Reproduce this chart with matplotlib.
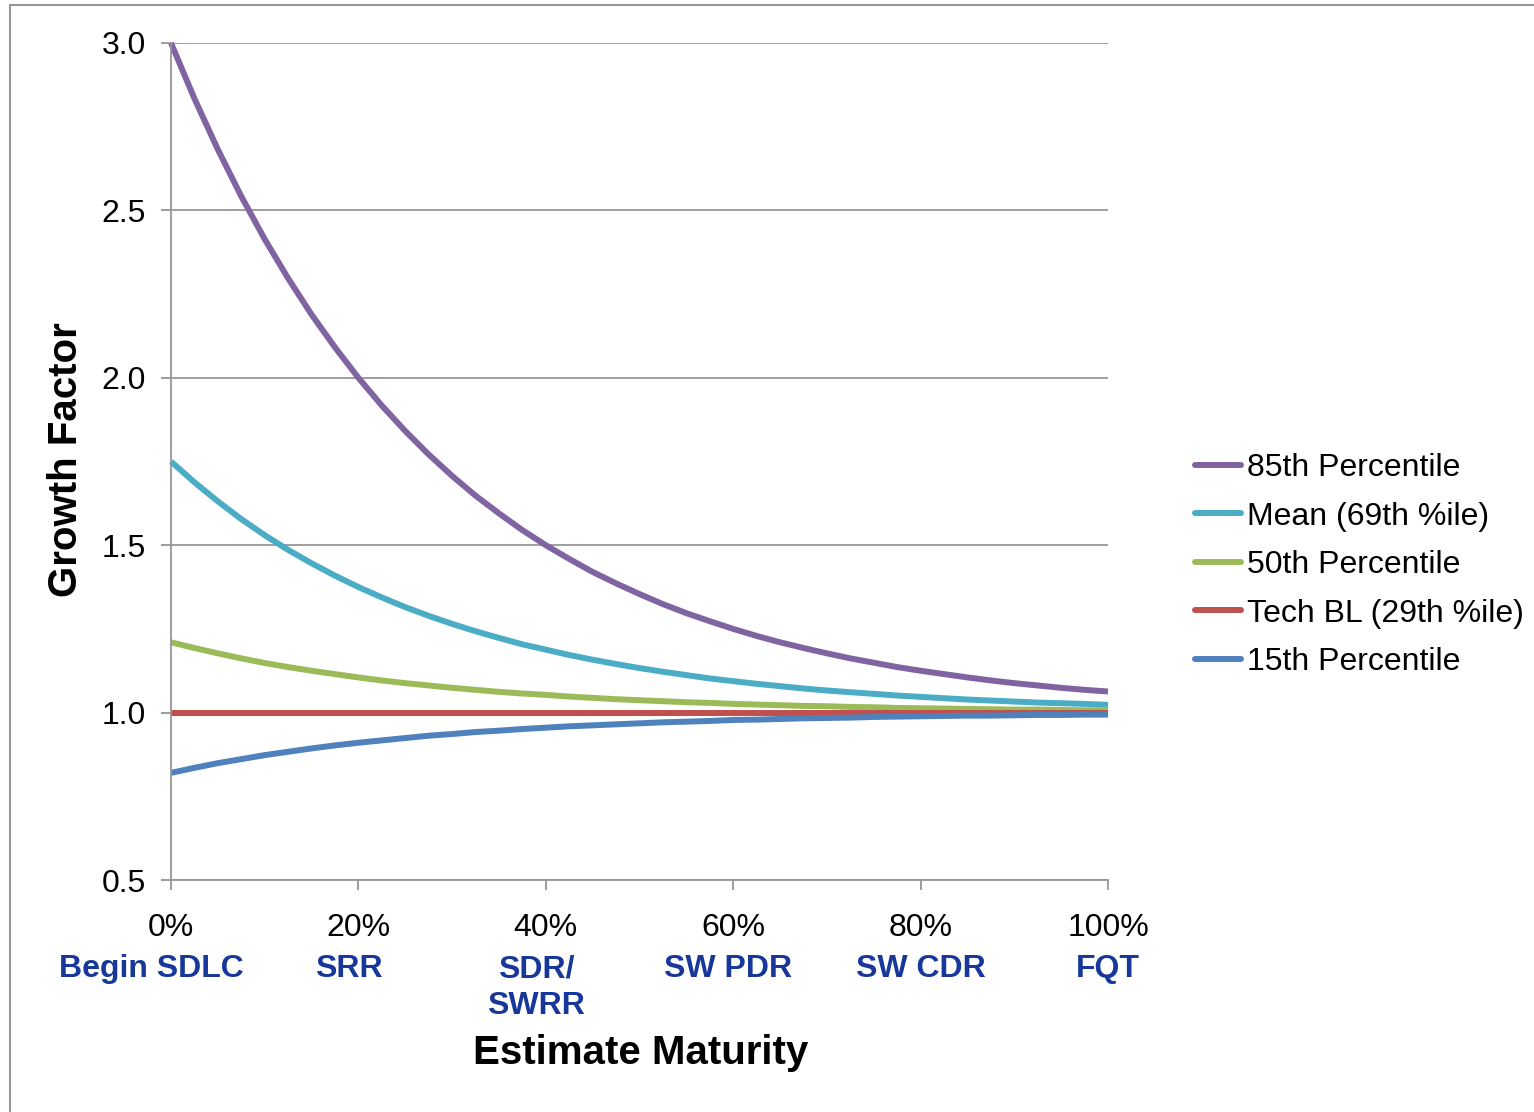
import matplotlib.pyplot as plt
import numpy as np
from matplotlib.patches import Rectangle
from matplotlib.lines import Line2D

plt.rcParams['font.family'] = ['Liberation Sans', 'DejaVu Sans']

# estimate maturity (%), sampled every 2.5%
maturity = [0, 2.5, 5, 7.5, 10, 12.5, 15, 17.5, 20, 22.5, 25, 27.5, 30, 32.5,
            35, 37.5, 40, 42.5, 45, 47.5, 50, 52.5, 55, 57.5, 60, 62.5, 65,
            67.5, 70, 72.5, 75, 77.5, 80, 82.5, 85, 87.5, 90, 92.5, 95, 97.5, 100]

p85 = [3.000, 2.834, 2.682, 2.542, 2.414, 2.297, 2.189, 2.091, 2.000, 1.917,
       1.841, 1.771, 1.707, 1.648, 1.595, 1.545, 1.500, 1.459, 1.420, 1.386,
       1.354, 1.324, 1.297, 1.273, 1.250, 1.229, 1.210, 1.193, 1.177, 1.162,
       1.149, 1.136, 1.125, 1.115, 1.105, 1.096, 1.088, 1.081, 1.074, 1.068, 1.063]
mean69 = [1.750, 1.688, 1.631, 1.578, 1.530, 1.486, 1.446, 1.409, 1.375, 1.344,
          1.315, 1.289, 1.265, 1.243, 1.223, 1.204, 1.188, 1.172, 1.158, 1.145,
          1.133, 1.122, 1.112, 1.102, 1.094, 1.086, 1.079, 1.072, 1.066, 1.061,
          1.056, 1.051, 1.047, 1.043, 1.039, 1.036, 1.033, 1.030, 1.028, 1.026, 1.023]
p50 = [1.210, 1.193, 1.177, 1.162, 1.148, 1.136, 1.125, 1.115, 1.105, 1.096,
       1.088, 1.081, 1.074, 1.068, 1.062, 1.057, 1.053, 1.048, 1.044, 1.040,
       1.037, 1.034, 1.031, 1.029, 1.026, 1.024, 1.022, 1.020, 1.019, 1.017,
       1.016, 1.014, 1.013, 1.012, 1.011, 1.010, 1.009, 1.009, 1.008, 1.007, 1.007]
tech_bl = [1.0] * len(maturity)
p15 = [0.820, 0.835, 0.849, 0.861, 0.873, 0.883, 0.893, 0.902, 0.910, 0.917,
       0.924, 0.931, 0.936, 0.942, 0.946, 0.951, 0.955, 0.959, 0.962, 0.965,
       0.968, 0.971, 0.973, 0.975, 0.978, 0.979, 0.981, 0.983, 0.984, 0.985,
       0.987, 0.988, 0.989, 0.990, 0.991, 0.991, 0.992, 0.993, 0.993, 0.994, 0.994]

series_names = ["85th Percentile", "Mean (69th %ile)", "50th Percentile",
                "Tech BL (29th %ile)", "15th Percentile"]
series_colors = ["#8064A2", "#4BACC6", "#9BBB59", "#C0504D", "#4F81BD"]

tick_pos = [0, 20, 40, 60, 80, 100]
tick_pct = ["0%", "20%", "40%", "60%", "80%", "100%"]
milestones = ["Begin SDLC", "SRR", "SDR/\nSWRR", "SW PDR", "SW CDR", "FQT"]
milestone_nudge = [-2.1, -1.0, -1.0, -0.6, 0.0, 0.0]   # small shifts in x (%)

grey = "#969696"
fs = 23

fig = plt.figure(figsize=(15.34, 11.12), dpi=100)
ax = fig.add_axes([171/1534, 1 - 880/1112, (1108-171)/1534, (880-43)/1112])

series = [p85, mean69, p50, tech_bl, p15]
for vals, name, col in zip(series, series_names, series_colors):
    ax.plot(maturity, vals, color=col, lw=4.3, label=name,
            solid_capstyle='butt', solid_joinstyle='round', clip_on=False)

ax.set_xlim(0, 100)
ax.set_ylim(0.5, 3.0)
ax.set_yticks(np.arange(0.5, 3.01, 0.5))
ax.set_yticklabels(["%.1f" % v for v in np.arange(0.5, 3.01, 0.5)])
ax.set_xticks(tick_pos)
ax.set_xticklabels(tick_pct)
ax.tick_params(axis='both', labelsize=fs, color=grey, width=1.3, length=7,
               direction='out')
ax.tick_params(axis='y', pad=11)
ax.tick_params(axis='x', pad=17)

ax.grid(axis='y', color=grey, lw=1.3)
ax.set_axisbelow(True)
for side in ['top', 'right']:
    ax.spines[side].set_visible(False)
for side in ['left', 'bottom']:
    ax.spines[side].set_color(grey)
    ax.spines[side].set_linewidth(1.3)

# milestone names under the percentage ticks
trans = ax.get_xaxis_transform()
for xp, dx, lab in zip(tick_pos, milestone_nudge, milestones):
    ax.text(xp + dx, -0.089, lab, transform=trans, ha='center', va='top',
            fontsize=fs, fontweight='bold', color="#17389A", linespacing=1.3,
            clip_on=False)

fig.text(641/1534, 1 - 1053/1112, "Estimate Maturity", ha='center', va='center',
         fontsize=29, fontweight='bold')
fig.text(66/1534, 1 - 460/1112, "Growth Factor", ha='center', va='center',
         rotation=90, fontsize=29, fontweight='bold')

handles = [Line2D([], [], color=c, lw=4.3, solid_capstyle='round') for c in series_colors]
fig.legend(handles, series_names, loc='upper left',
           bbox_to_anchor=(1195/1534, 1 - 453/1112), frameon=False,
           fontsize=fs, handlelength=1.45, handletextpad=0.18, labelspacing=0.58,
           borderaxespad=0, borderpad=0)

# outer frame
fig.patches.append(Rectangle((10/1534, -0.05), 1.1, 1 - 5/1112 + 0.05,
                             transform=fig.transFigure, fill=False,
                             edgecolor=grey, lw=1.5))

fig.savefig("out.png", dpi=100)
